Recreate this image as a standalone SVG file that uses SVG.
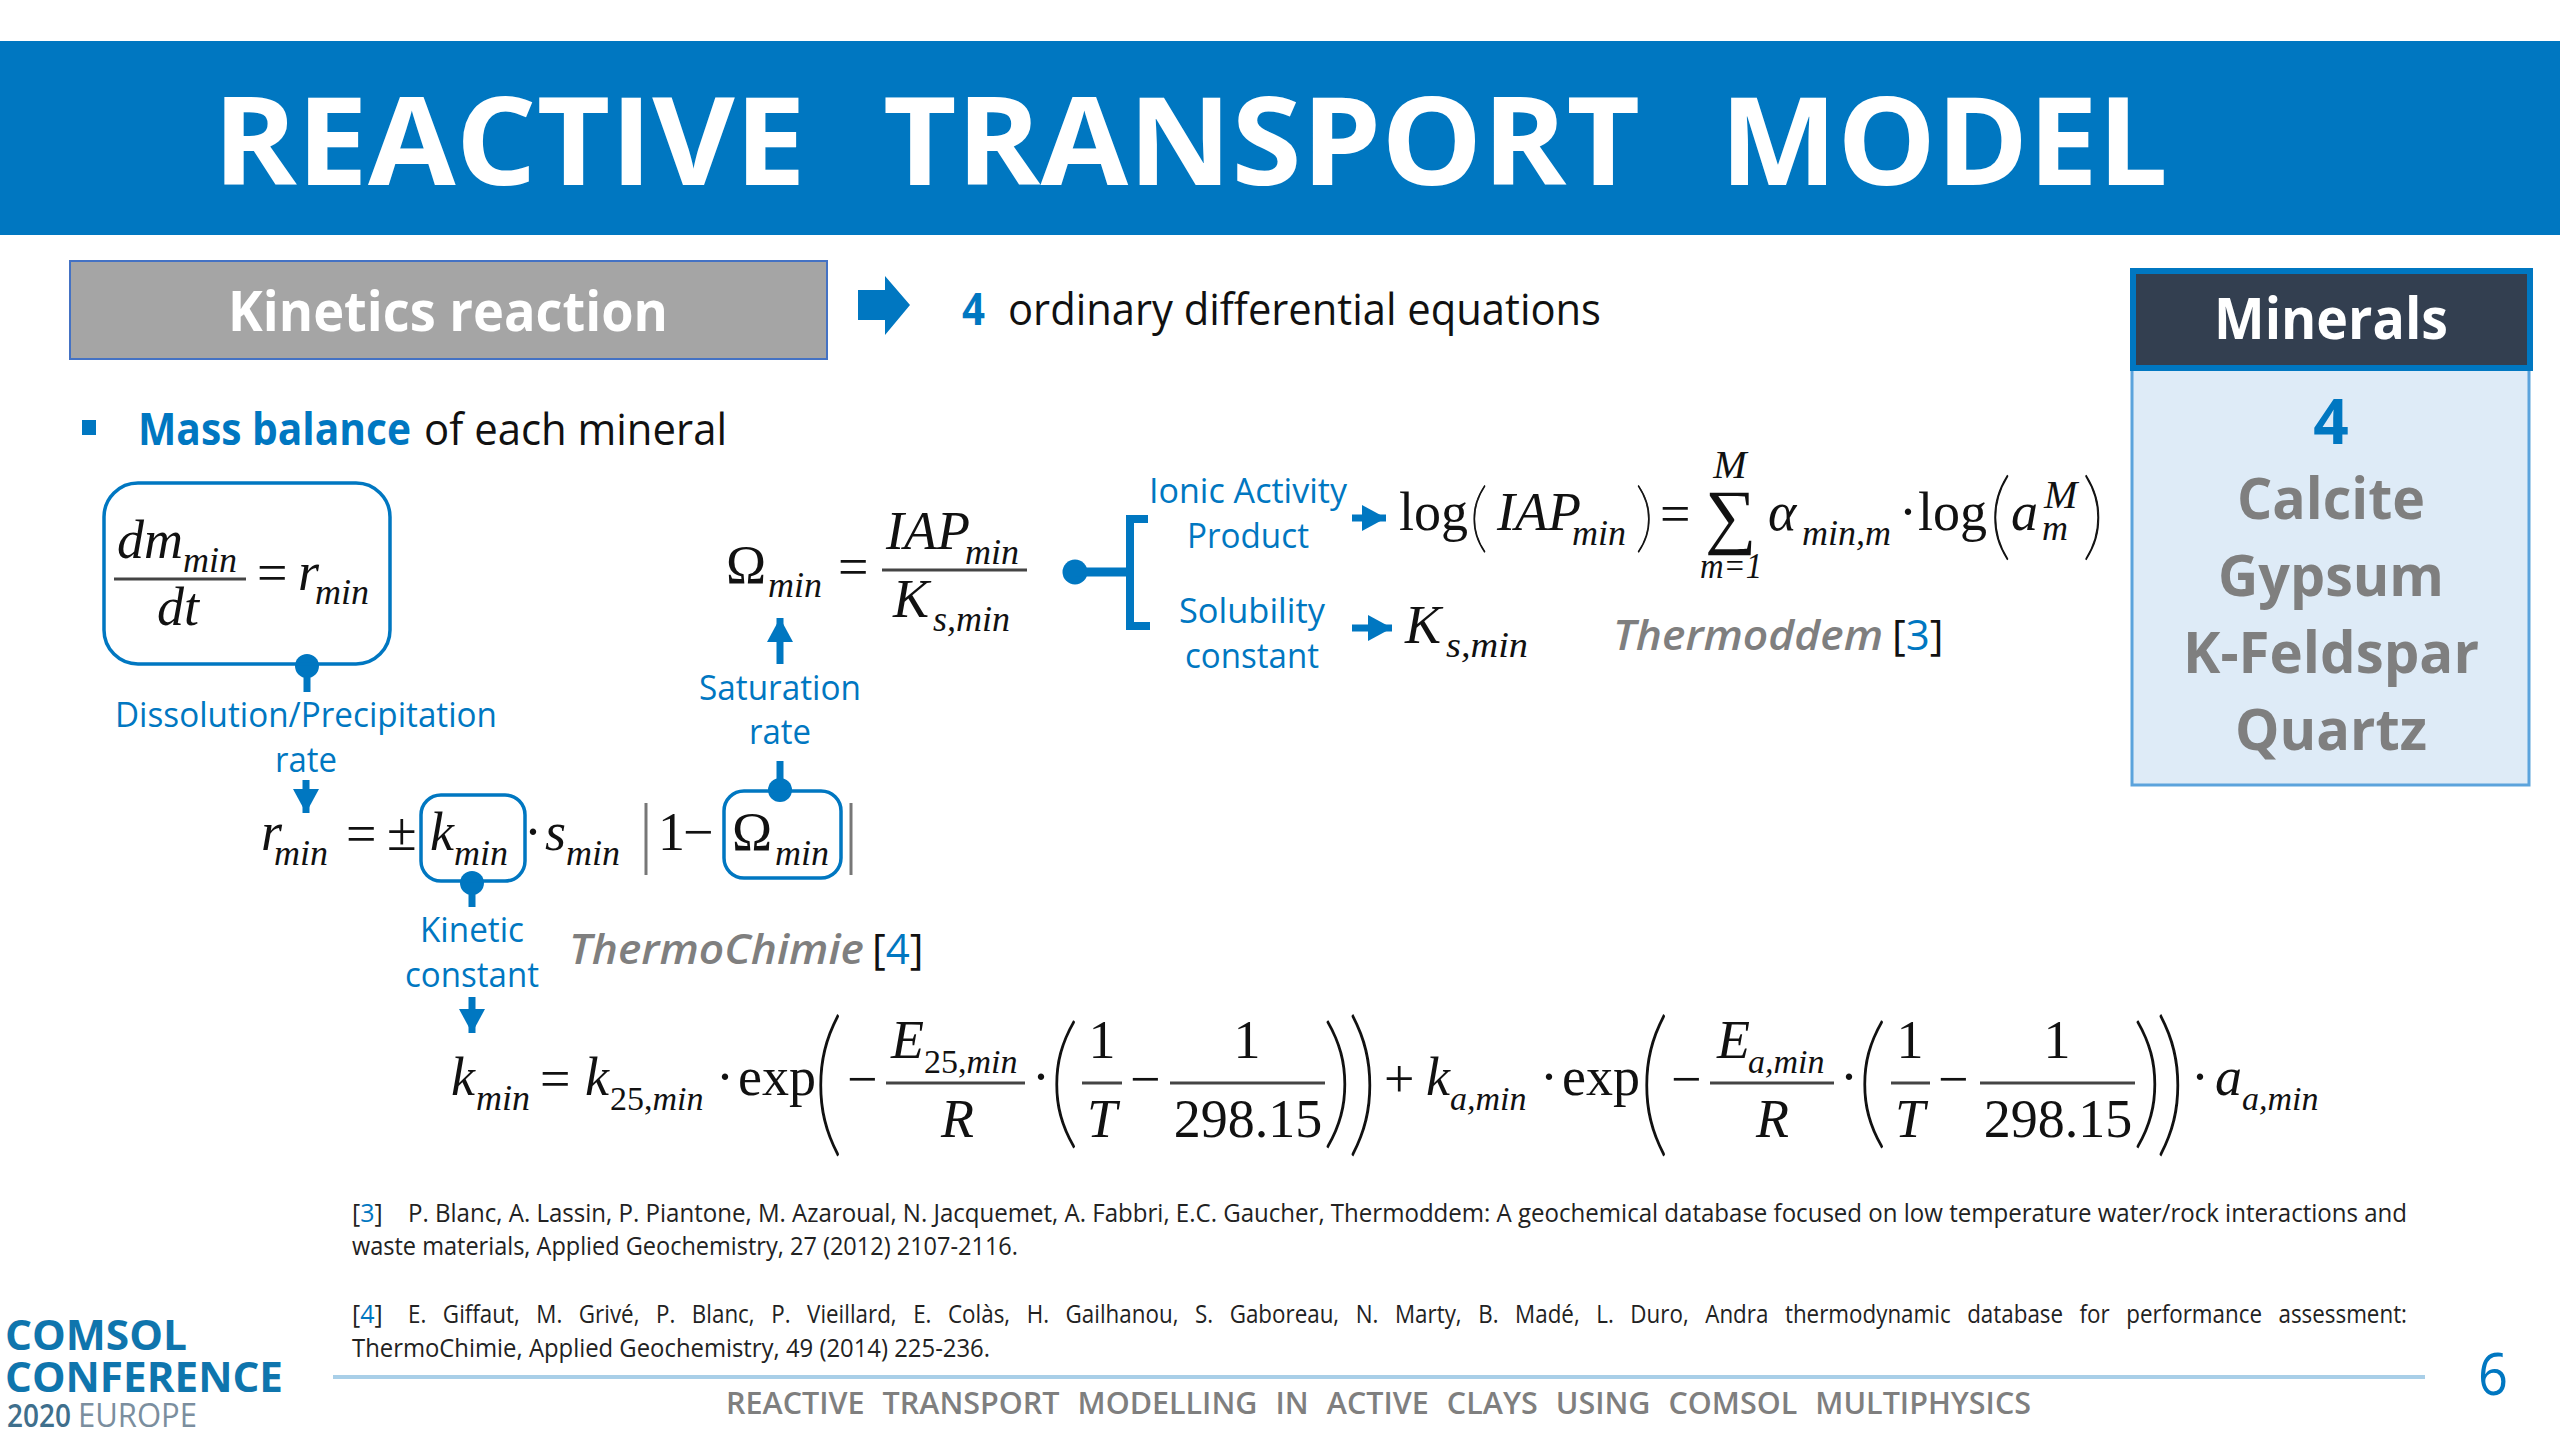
<svg xmlns="http://www.w3.org/2000/svg" width="2560" height="1440" viewBox="0 0 2560 1440">
<style>
text{white-space:pre}
.s{font-family:"Open Sans","Liberation Sans",sans-serif}
.b{fill:#0077c1}
.g{fill:#7f7f7f}
.k{fill:#111}
.w{fill:#fff}
.h{font-weight:700}
.sb{font-weight:600}
.c{text-anchor:middle}
.l{font-size:35px}
.f{font-size:25px;fill:#222}
.m{font-family:"Liberation Serif","Times New Roman",serif;font-size:54px;fill:#111}
.i{font-style:italic}
.u{font-style:italic;font-size:36px}
.n{font-size:34px}
.big{font-size:40px}
.sg{font-size:72px}
.p{font-family:Lato,"Open Sans",sans-serif;font-weight:100;font-size:90px;fill:#111;stroke:#111;stroke-width:1}
.fl{stroke:#444;stroke-width:3;fill:none}
.con{stroke:#0077c1;stroke-width:7;fill:none}
.box{fill:none;stroke:#0077c1;stroke-width:3.5}
</style>
<defs>
<marker id="ah" markerUnits="userSpaceOnUse" markerWidth="26" markerHeight="26" refX="24" refY="13" orient="auto"><path d="M0 0L24 13L0 26Z" fill="#0077c1"/></marker>
</defs>
<rect width="2560" height="1440" fill="#fff"/>
<g id="banner">
<rect x="0" y="41" width="2560" height="194" fill="#0077c1"/>
<text class="s h w" x="213" y="185" font-size="122" textLength="593" lengthAdjust="spacingAndGlyphs">REACTIVE</text>
<text class="s h w" x="883" y="185" font-size="122" textLength="757" lengthAdjust="spacingAndGlyphs">TRANSPORT</text>
<text class="s h w" x="1720" y="185" font-size="122" textLength="448" lengthAdjust="spacingAndGlyphs">MODEL</text>
</g>
<g id="kinetics">
<rect x="70" y="261" width="757" height="98" fill="#a5a5a5" stroke="#4472c4" stroke-width="2"/>
<text class="s h w" x="228" y="331" font-size="56" textLength="440" lengthAdjust="spacingAndGlyphs">Kinetics reaction</text>
</g>
<g id="ode">
<path d="M858 290H885V276L910 305L885 335V320H858Z" fill="#0077c1"/>
<text class="s h b" x="962" y="325" font-size="44" textLength="23" lengthAdjust="spacingAndGlyphs">4</text>
<text class="s k" x="1008" y="325" font-size="44" textLength="593" lengthAdjust="spacingAndGlyphs">ordinary differential equations</text>
</g>
<g id="minerals">
<rect x="2132" y="369" width="397" height="416" fill="#deebf7" stroke="#5ba3dc" stroke-width="3"/>
<rect x="2133" y="271" width="397" height="97" fill="#333f50" stroke="#0077c1" stroke-width="6"/>
<text class="s h w c" x="2331" y="339" font-size="58" textLength="234" lengthAdjust="spacingAndGlyphs">Minerals</text>
<text class="s h b c" x="2331" y="444" font-size="62">4</text>
<text class="s h g c" x="2331" y="519" font-size="58" textLength="188" lengthAdjust="spacingAndGlyphs">Calcite</text>
<text class="s h g c" x="2331" y="596" font-size="58" textLength="226" lengthAdjust="spacingAndGlyphs">Gypsum</text>
<text class="s h g c" x="2331" y="673" font-size="58" textLength="296" lengthAdjust="spacingAndGlyphs">K-Feldspar</text>
<text class="s h g c" x="2331" y="750" font-size="58" textLength="192" lengthAdjust="spacingAndGlyphs">Quartz</text>
</g>
<g id="mass-balance">
<rect x="82" y="420" width="14" height="15" fill="#0077c1"/>
<text class="s h b" x="138" y="445" font-size="44" textLength="273" lengthAdjust="spacingAndGlyphs">Mass balance</text>
<text class="s k" x="424" y="445" font-size="44" textLength="303" lengthAdjust="spacingAndGlyphs">of each mineral</text>
</g>
<g id="connectors">
<line class="con" x1="307" y1="665" x2="307" y2="692"/>
<circle cx="307" cy="666" r="12" fill="#0077c1"/>
<line class="con" x1="306" y1="780" x2="306" y2="813" marker-end="url(#ah)"/>
<line class="con" x1="780" y1="664" x2="780" y2="618" marker-end="url(#ah)"/>
<line class="con" x1="780" y1="761" x2="780" y2="790"/>
<circle cx="780" cy="790" r="12" fill="#0077c1"/>
<line class="con" x1="472" y1="882" x2="472" y2="907"/>
<circle cx="472" cy="883" r="12" fill="#0077c1"/>
<line class="con" x1="472" y1="997" x2="472" y2="1033" marker-end="url(#ah)"/>
<circle cx="1075" cy="572" r="12.5" fill="#0077c1"/>
<path d="M1075 572H1130" stroke="#0077c1" stroke-width="9" fill="none"/>
<path d="M1148 519H1130V626H1150" stroke="#0077c1" stroke-width="8" fill="none"/>
<line class="con" x1="1352" y1="518" x2="1386" y2="518" marker-end="url(#ah)"/>
<line class="con" x1="1352" y1="628" x2="1392" y2="628" marker-end="url(#ah)"/>
</g>
<g id="mass-eq">
<rect class="box" x="104" y="483" width="286" height="181" rx="34"/>
<text class="m i" x="117" y="558">dm</text>
<text class="m u" x="183" y="572">min</text>
<line class="fl" x1="114" y1="579" x2="246" y2="579"/>
<text class="m i" x="157" y="625">dt</text>
<text class="m" x="257" y="591">=</text>
<text class="m i" x="298" y="590">r</text>
<text class="m u" x="315" y="604">min</text>
</g>
<g id="labels">
<text class="s l b c" x="306" y="727" textLength="382" lengthAdjust="spacingAndGlyphs">Dissolution/Precipitation</text>
<text class="s l b c" x="306" y="772" textLength="62" lengthAdjust="spacingAndGlyphs">rate</text>
<text class="s l b c" x="780" y="700" textLength="162" lengthAdjust="spacingAndGlyphs">Saturation</text>
<text class="s l b c" x="780" y="744" textLength="62" lengthAdjust="spacingAndGlyphs">rate</text>
<text class="s l b c" x="472" y="942" textLength="104" lengthAdjust="spacingAndGlyphs">Kinetic</text>
<text class="s l b c" x="472" y="987" textLength="134" lengthAdjust="spacingAndGlyphs">constant</text>
<text class="s l b c" x="1248" y="503" textLength="198" lengthAdjust="spacingAndGlyphs">Ionic Activity</text>
<text class="s l b c" x="1248" y="548" textLength="122" lengthAdjust="spacingAndGlyphs">Product</text>
<text class="s l b c" x="1252" y="623" textLength="146" lengthAdjust="spacingAndGlyphs">Solubility</text>
<text class="s l b c" x="1252" y="668" textLength="134" lengthAdjust="spacingAndGlyphs">constant</text>
</g>
<g id="omega-eq">
<text class="m" x="726" y="583">Ω</text>
<text class="m u" x="768" y="597">min</text>
<text class="m" x="838" y="585">=</text>
<text class="m i" x="886" y="549">IAP</text>
<text class="m u" x="965" y="564">min</text>
<line class="fl" x1="882" y1="570" x2="1027" y2="570"/>
<text class="m i" x="893" y="617">K</text>
<text class="m u" x="933" y="631">s,min</text>
</g>
<g id="iap-eq">
<text class="m" x="1399" y="530">log</text>
<text class="p" transform="translate(1469 543) scale(.85 .845)">(</text>
<text class="m i" x="1497" y="530">IAP</text>
<text class="m u" x="1572" y="545">min</text>
<text class="p" transform="translate(1635 543) scale(.85 .845)">)</text>
<text class="m" x="1660" y="532">=</text>
<text class="m sg" x="1705" y="540">∑</text>
<text class="m u big" x="1730" y="478" text-anchor="middle">M</text>
<text class="m u" x="1700" y="578" textLength="62" lengthAdjust="spacingAndGlyphs">m=1</text>
<text class="m i" x="1768" y="530">α</text>
<text class="m u" x="1802" y="545">min,m</text>
<text class="m" x="1899" y="530">·</text>
<text class="m" x="1918" y="530">log</text>
<text class="p" transform="translate(1989 548) scale(1 1.07)">(</text>
<text class="m i" x="2011" y="530">a</text>
<text class="m u big" x="2044" y="508">M</text>
<text class="m u" x="2042" y="540">m</text>
<text class="p" transform="translate(2082 548) scale(1 1.07)">)</text>
<text class="m i" x="1405" y="643">K</text>
<text class="m u" x="1446" y="657" textLength="82" lengthAdjust="spacingAndGlyphs">s,min</text>
<text class="s sb g" x="1613" y="650" font-size="42" font-style="italic" textLength="270" lengthAdjust="spacingAndGlyphs">Thermoddem</text>
<text class="s k" x="1892" y="650" font-size="42">[<tspan class="b">3</tspan>]</text>
</g>
<g id="rate-eq">
<text class="m i" x="261" y="850">r</text>
<text class="m u" x="274" y="865">min</text>
<text class="m" x="346" y="852">=</text>
<text class="m" x="387" y="850">±</text>
<rect class="box" x="421" y="795" width="104" height="86" rx="20"/>
<text class="m i" x="430" y="850">k</text>
<text class="m u" x="454" y="865">min</text>
<text class="m" x="524" y="850">·</text>
<text class="m i" x="545" y="850">s</text>
<text class="m u" x="566" y="865">min</text>
<line x1="646" y1="803" x2="646" y2="875" stroke="#777" stroke-width="3"/>
<text class="m" x="658" y="850">1</text>
<text class="m" x="683" y="850">−</text>
<rect class="box" x="724" y="791" width="117" height="87" rx="20"/>
<text class="m" x="732" y="850">Ω</text>
<text class="m u" x="775" y="865">min</text>
<line x1="851" y1="803" x2="851" y2="875" stroke="#777" stroke-width="3"/>
<text class="s sb g" x="569" y="964" font-size="42" font-style="italic" textLength="295" lengthAdjust="spacingAndGlyphs">ThermoChimie</text>
<text class="s k" x="872" y="964" font-size="42">[<tspan class="b">4</tspan>]</text>
</g>
<g id="kinetic-eq">
<text class="m i" x="451" y="1095">k</text>
<text class="m u" x="476" y="1110">min</text>
<text class="m" x="540" y="1097">=</text>
<text class="m i" x="585" y="1095">k</text>
<text class="m n" x="610" y="1110">25,<tspan class="i">min</tspan></text>
<text class="m" x="716" y="1095">·</text>
<text class="m" x="738" y="1095">exp</text>
<text class="p" transform="translate(812 1135.6) scale(1.4 1.79)">(</text>
<text class="m" x="847" y="1097">−</text>
<text class="m i" x="891" y="1058">E</text>
<text class="m n" x="924" y="1073">25,<tspan class="i">min</tspan></text>
<line class="fl" x1="886" y1="1083" x2="1025" y2="1083"/>
<text class="m i" x="941" y="1137">R</text>
<text class="m" x="1032" y="1095">·</text>
<text class="p" transform="translate(1048 1130.3) scale(1.4 1.61)">(</text>
<text class="m c" x="1102" y="1058">1</text>
<line class="fl" x1="1082" y1="1083" x2="1122" y2="1083"/>
<text class="m i c" x="1102" y="1137">T</text>
<text class="m" x="1130" y="1097">−</text>
<text class="m c" x="1247" y="1058">1</text>
<line class="fl" x1="1170" y1="1083" x2="1325" y2="1083"/>
<text class="m c" x="1248" y="1137">298.15</text>
<text class="p" transform="translate(1322 1130.3) scale(1.4 1.61)">)</text>
<text class="p" transform="translate(1347 1135.6) scale(1.4 1.79)">)</text>
<text class="m" x="1384" y="1097">+</text>
<text class="m i" x="1426" y="1095">k</text>
<text class="m n i" x="1450" y="1110">a,min</text>
<text class="m" x="1540" y="1095">·</text>
<text class="m" x="1562" y="1095">exp</text>
<text class="p" transform="translate(1638 1135.6) scale(1.4 1.79)">(</text>
<text class="m" x="1671" y="1097">−</text>
<text class="m i" x="1717" y="1058">E</text>
<text class="m n i" x="1748" y="1073">a,min</text>
<line class="fl" x1="1710" y1="1083" x2="1834" y2="1083"/>
<text class="m i" x="1756" y="1137">R</text>
<text class="m" x="1840" y="1095">·</text>
<text class="p" transform="translate(1856 1130.3) scale(1.4 1.61)">(</text>
<text class="m c" x="1910" y="1058">1</text>
<line class="fl" x1="1891" y1="1083" x2="1930" y2="1083"/>
<text class="m i c" x="1910" y="1137">T</text>
<text class="m" x="1938" y="1097">−</text>
<text class="m c" x="2057" y="1058">1</text>
<line class="fl" x1="1980" y1="1083" x2="2135" y2="1083"/>
<text class="m c" x="2058" y="1137">298.15</text>
<text class="p" transform="translate(2132 1130.3) scale(1.4 1.61)">)</text>
<text class="p" transform="translate(2155 1135.6) scale(1.4 1.79)">)</text>
<text class="m" x="2191" y="1095">·</text>
<text class="m i" x="2215" y="1095">a</text>
<text class="m n i" x="2242" y="1110">a,min</text>
</g>
<g id="references">
<text class="s f" x="352" y="1222">[<tspan class="b">3</tspan>]</text>
<text class="s f" x="408" y="1222" textLength="1999" lengthAdjust="spacingAndGlyphs">P. Blanc, A. Lassin, P. Piantone, M. Azaroual, N. Jacquemet, A. Fabbri, E.C. Gaucher, Thermoddem: A geochemical database focused on low temperature water/rock interactions and</text>
<text class="s f" x="352" y="1255" textLength="666" lengthAdjust="spacingAndGlyphs">waste materials, Applied Geochemistry, 27 (2012) 2107-2116.</text>
<text class="s f" x="352" y="1323">[<tspan class="b">4</tspan>]</text>
<text class="s f" x="408" y="1323" word-spacing="12" textLength="1999" lengthAdjust="spacingAndGlyphs">E. Giffaut, M. Grivé, P. Blanc, P. Vieillard, E. Colàs, H. Gailhanou, S. Gaboreau, N. Marty, B. Madé, L. Duro, Andra thermodynamic database for performance assessment:</text>
<text class="s f" x="352" y="1357" textLength="638" lengthAdjust="spacingAndGlyphs">ThermoChimie, Applied Geochemistry, 49 (2014) 225-236.</text>
</g>
<g id="footer">
<text class="s h" x="5" y="1350" font-size="42" fill="#0f75ad" textLength="182" lengthAdjust="spacingAndGlyphs">COMSOL</text>
<text class="s h" x="5" y="1392" font-size="42" fill="#0f75ad" textLength="278" lengthAdjust="spacingAndGlyphs">CONFERENCE</text>
<text class="s sb" x="7" y="1427" font-size="32" fill="#3f6f8c" textLength="64" lengthAdjust="spacingAndGlyphs">2020</text>
<text class="s" x="78" y="1427" font-size="32" fill="#7b8e9e" textLength="119" lengthAdjust="spacingAndGlyphs">EUROPE</text>
<line x1="333" y1="1377" x2="2425" y2="1377" stroke="#a9cfe8" stroke-width="4"/>
<text class="s sb g" x="726" y="1414" font-size="30" word-spacing="10" textLength="1305" lengthAdjust="spacingAndGlyphs">REACTIVE TRANSPORT MODELLING IN ACTIVE CLAYS USING COMSOL MULTIPHYSICS</text>
<text class="s b" x="2478" y="1395" font-size="58" textLength="30" lengthAdjust="spacingAndGlyphs">6</text>
</g>
</svg>
